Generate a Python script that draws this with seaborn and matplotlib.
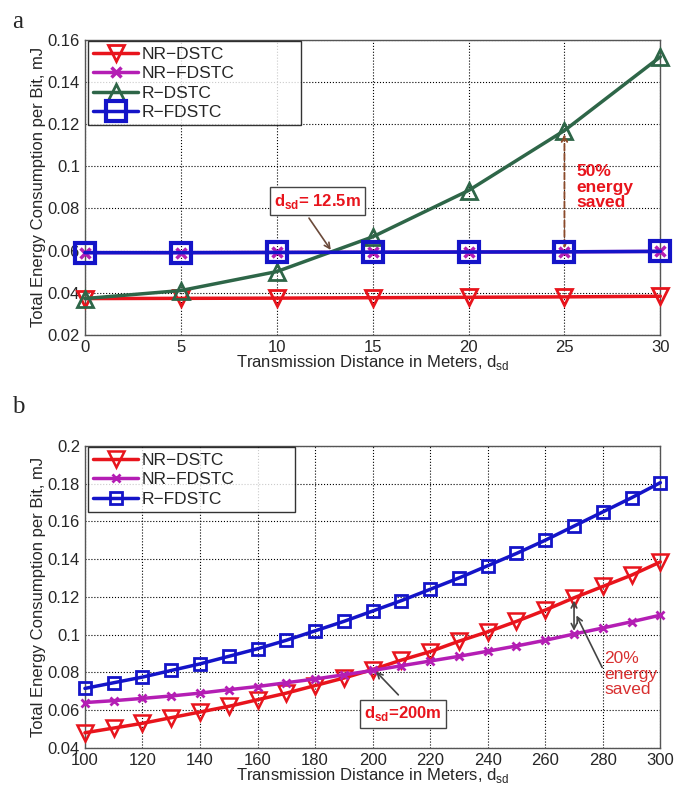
import numpy as np
import pandas as pd
import seaborn as sns
import matplotlib.pyplot as plt

# panel a: short distances
dist_a = [0, 5, 10, 15, 20, 25, 30]
nr_dstc_a = [0.0372, 0.0373, 0.0374, 0.0376, 0.0378, 0.0380, 0.0383]
nr_fdstc_a = [0.0590, 0.0590, 0.0591, 0.0592, 0.0593, 0.0594, 0.0596]
r_dstc_a = [0.0372, 0.0410, 0.0500, 0.0665, 0.0885, 0.1170, 0.1520]
r_fdstc_a = [0.0590, 0.0590, 0.0591, 0.0592, 0.0593, 0.0594, 0.0596]

# panel b: long distances
dist_b = list(range(100, 301, 10))
nr_dstc_b = [0.0480, 0.0505, 0.0530, 0.0560, 0.0590, 0.0620, 0.0655, 0.0690, 0.0730, 0.0770,
             0.0815, 0.0865, 0.0910, 0.0965, 0.1015, 0.1070, 0.1130, 0.1195, 0.1255, 0.1315, 0.1385]
nr_fdstc_b = [0.0640, 0.0650, 0.0662, 0.0675, 0.0690, 0.0708, 0.0725, 0.0745, 0.0765, 0.0787,
              0.0810, 0.0835, 0.0860, 0.0885, 0.0912, 0.0940, 0.0970, 0.1003, 0.1035, 0.1068, 0.1103]
r_fdstc_b = [0.0715, 0.0745, 0.0775, 0.0810, 0.0845, 0.0885, 0.0925, 0.0970, 0.1020, 0.1070,
             0.1125, 0.1180, 0.1240, 0.1300, 0.1365, 0.1430, 0.1500, 0.1575, 0.1650, 0.1725, 0.1805]

RED = '#e8141c'
PURPLE = '#b41eb4'
GREEN = '#2e6648'
BLUE = '#1414c8'

sns.set_style('white')
plt.rcParams['font.family'] = ['Liberation Sans', 'DejaVu Sans']
plt.rcParams['mathtext.fontset'] = 'custom'
plt.rcParams['mathtext.rm'] = 'Liberation Sans'
plt.rcParams['mathtext.bf'] = 'Liberation Sans:bold'

fig = plt.figure(figsize=(6.85, 7.99), dpi=100)
ax1 = fig.add_axes([0.124, 0.581, 0.840, 0.369])
ax2 = fig.add_axes([0.124, 0.064, 0.840, 0.378])


def style_axes(ax):
    ax.grid(True, linestyle=':', color='black', linewidth=0.8)
    for s in ax.spines.values():
        s.set_color('#555555')
        s.set_linewidth(1.0)
    ax.tick_params(labelsize=12, direction='in', length=4, color='#555555')
    ax.set_ylabel('Total Energy Consumption per Bit, mJ', fontsize=12, labelpad=1)
    ax.set_xlabel('Transmission Distance in Meters, d$_{\\rm sd}$', fontsize=12, labelpad=-1)


def add_legend(ax, width, height):
    leg = ax.legend(loc='upper left', bbox_to_anchor=(0.005, 0.995 - height, width, height),
                    mode='expand', fontsize=12.5, frameon=True, fancybox=False,
                    edgecolor='black', handlelength=2.6, borderpad=0.3, labelspacing=0.25,
                    borderaxespad=0.0, handletextpad=0.2)
    leg.get_frame().set_linewidth(1.0)


# ---- panel a ----
df_a = pd.DataFrame({'d': dist_a, 'nr_dstc': nr_dstc_a, 'nr_fdstc': nr_fdstc_a,
                     'r_dstc': r_dstc_a, 'r_fdstc': r_fdstc_a})
sns.lineplot(data=df_a, x='d', y='nr_dstc', ax=ax1, color=RED, lw=2.5, marker='v', ms=12,
             mfc='none', mec=RED, mew=2, label='NR\u2212DSTC', clip_on=False, zorder=3)
sns.lineplot(data=df_a, x='d', y='nr_fdstc', ax=ax1, color=PURPLE, lw=2.5, marker='x', ms=7,
             mec=PURPLE, mew=2.5, label='NR\u2212FDSTC', clip_on=False, zorder=3)
sns.lineplot(data=df_a, x='d', y='r_dstc', ax=ax1, color=GREEN, lw=2.5, marker='^', ms=12,
             mfc='none', mec=GREEN, mew=2, label='R\u2212DSTC', clip_on=False, zorder=3)
sns.lineplot(data=df_a, x='d', y='r_fdstc', ax=ax1, color=BLUE, lw=2.5, marker='s', ms=15,
             mfc='none', mec=BLUE, mew=3, label='R\u2212FDSTC', clip_on=False, zorder=4)
ax1.set_xlim(0, 30)
ax1.set_ylim(0.02, 0.16)
ax1.set_xticks(np.arange(0, 31, 5))
ax1.set_yticks(np.arange(0.02, 0.161, 0.02))
ax1.set_yticklabels(['0.02', '0.04', '0.06', '0.08', '0.1', '0.12', '0.14', '0.16'])
style_axes(ax1)
add_legend(ax1, 0.37, 0.29)

ax1.annotate('', xy=(12.9, 0.0592), xytext=(11.6, 0.0765),
             arrowprops=dict(arrowstyle='->', color='#6b4a3a', lw=1.2))
ax1.text(9.85, 0.0835, 'd$_{\\mathbf{sd}}$= 12.5m', color=RED, fontsize=12, fontweight='bold',
         va='center', bbox=dict(boxstyle='square,pad=0.25', fc='white', ec='#444444', lw=1))
ax1.annotate('', xy=(25, 0.1165), xytext=(25, 0.0597),
             arrowprops=dict(arrowstyle='<->', color='#8b4a2a', lw=1.3, linestyle='--'))
ax1.text(25.6, 0.090, '50%\nenergy\nsaved', color=RED, fontsize=12.5, fontweight='bold',
         va='center', ha='left', linespacing=1.05)

# ---- panel b ----
df_b = pd.DataFrame({'d': dist_b, 'nr_dstc': nr_dstc_b, 'nr_fdstc': nr_fdstc_b,
                     'r_fdstc': r_fdstc_b})
sns.lineplot(data=df_b, x='d', y='nr_dstc', ax=ax2, color=RED, lw=2.5, marker='v', ms=11,
             mfc='none', mec=RED, mew=1.8, label='NR\u2212DSTC', clip_on=False, zorder=3)
sns.lineplot(data=df_b, x='d', y='nr_fdstc', ax=ax2, color=PURPLE, lw=2.5, marker='x', ms=6,
             mec=PURPLE, mew=2, label='NR\u2212FDSTC', clip_on=False, zorder=3)
sns.lineplot(data=df_b, x='d', y='r_fdstc', ax=ax2, color=BLUE, lw=2.5, marker='s', ms=8,
             mfc='none', mec=BLUE, mew=2, label='R\u2212FDSTC', clip_on=False, zorder=3)
ax2.set_xlim(100, 300)
ax2.set_ylim(0.04, 0.2)
ax2.set_xticks(np.arange(100, 301, 20))
ax2.set_yticks(np.arange(0.04, 0.201, 0.02))
ax2.set_yticklabels(['0.04', '0.06', '0.08', '0.1', '0.12', '0.14', '0.16', '0.18', '0.2'])
style_axes(ax2)
add_legend(ax2, 0.36, 0.22)

ax2.annotate('', xy=(200.5, 0.0815), xytext=(209.6, 0.067),
             arrowprops=dict(arrowstyle='->', color='#444444', lw=1.2))
ax2.text(197, 0.058, 'd$_{\\mathbf{sd}}$=200m', color=RED, fontsize=12, fontweight='bold',
         va='center', bbox=dict(boxstyle='square,pad=0.25', fc='white', ec='#444444', lw=1))
ax2.annotate('', xy=(270, 0.1195), xytext=(270, 0.1005),
             arrowprops=dict(arrowstyle='<->', color='#444444', lw=1.2))
ax2.annotate('', xy=(270.4, 0.1115), xytext=(280.2, 0.0813),
             arrowprops=dict(arrowstyle='->', color='#444444', lw=1.2))
ax2.text(280.5, 0.079, '20%\nenergy\nsaved', color='#d83030', fontsize=12.5,
         va='center', ha='left', linespacing=1.05)

fig.text(0.017, 0.972, 'a', fontsize=18, family=['Liberation Serif', 'DejaVu Serif'], va='center')
fig.text(0.017, 0.491, 'b', fontsize=18, family=['Liberation Serif', 'DejaVu Serif'], va='center')

fig.savefig('out.png', dpi=100)
